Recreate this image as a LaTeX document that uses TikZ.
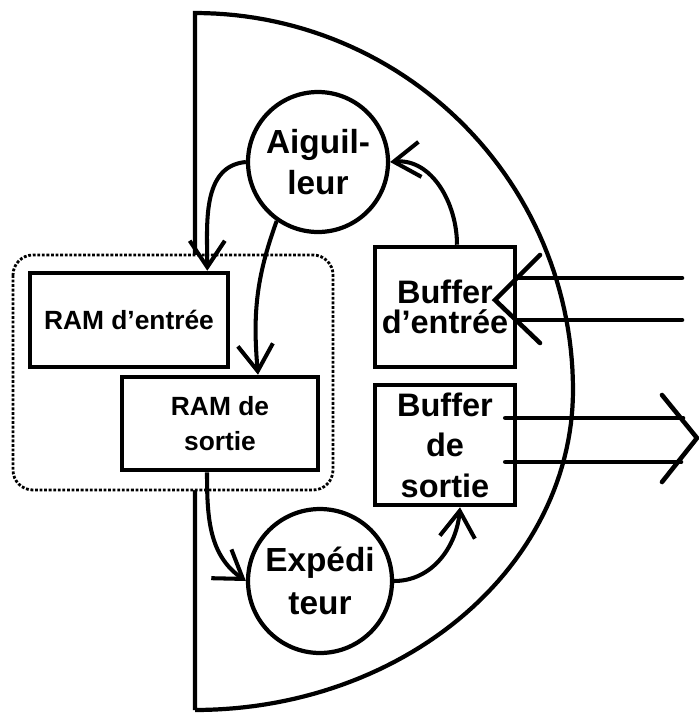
\documentclass[tikz,border=0pt]{standalone}
\usepackage{fontspec}
\setmainfont{Liberation Sans}
\usepackage{tikz}
\usetikzlibrary{arrows.meta, positioning, calc}

\tikzset{
    etage/.style={draw, line width=2.6pt, fill=white, align=center, inner sep=0pt,
        font=\fontsize{18.5}{23}\selectfont\bfseries},
    memoire/.style={draw, line width=2.6pt, fill=white, align=center, inner sep=0pt,
        font=\fontsize{15}{20}\selectfont\bfseries},
    processus/.style={draw, circle, line width=2.4pt, fill=white, align=center, inner sep=0pt,
        font=\fontsize{19}{25}\selectfont\bfseries},
    fleche/.style={line width=2.3pt, -{Straight Barb[length=15pt, width=20pt]}},
    grosse/.style={line width=2.6pt, line cap=round, line join=miter},
}

\begin{document}
\begin{tikzpicture}[x=0.02cm, y=-0.02cm]
    \useasboundingbox (0, 0) rectangle (699, 714);

    % demi-disque
    \draw[line width=2.4pt, line join=miter] (195, 710) -- (195, 13)
        -- plot[domain=90:0, samples=60] ({195+378*cos(\x)}, {390-377*sin(\x)})
        -- plot[domain=0:90, samples=60] ({195+378*cos(\x)}, {390+320*sin(\x)})
        -- cycle;

    % zone des RAM
    \draw[densely dotted, line width=1.6pt, fill=white, rounded corners=0.4cm] (13, 255) rectangle (333, 490);

    \node[memoire, minimum width=3.96cm, minimum height=1.88cm] (ramin) at (129, 320) {RAM d'entrée};
    \node[memoire, minimum width=3.92cm, minimum height=1.86cm] (ramout) at (220, 423.5) {RAM de\\sortie};

    \node[etage, minimum width=2.8cm, minimum height=2.4cm] (bufin) at (445, 307) {Buffer\\[-6pt]d'entrée};
    \node[etage, minimum width=2.8cm, minimum height=2.4cm] (bufout) at (445, 445) {Buffer\\de\\sortie};

    \node[processus, minimum size=2.8cm] (aig) at (318, 162) {\raisebox{-8pt}{\shortstack{Aiguil-\\[3pt]leur}}};
    \node[processus, minimum size=2.88cm] (exp) at (320, 581) {\raisebox{-10pt}{\shortstack{Expédi\\[5pt]teur}}};

    % liaisons
    \draw[fleche] (aig.west) to[out=185, in=90] ($(ramin.north east)+(-23, 0)$);
    \draw[fleche] (aig.235) to[out=250, in=95] ($(ramout.north)+(38, 0)$);
    \draw[fleche] ($(bufin.north)+(12, 0)$) to[out=90, in=5] (aig.east);
    \draw[fleche] ($(ramout.south)+(-13, 0)$) to[out=270, in=145] (exp.west);
    \draw[fleche] (exp.east) to[out=0, in=265] ($(bufout.south)+(15, 0)$);

    % entrées
    \coordinate (in1) at (682, 278);
    \coordinate (in2) at (682, 320);
    \draw[grosse] (in1) -- (in1 -| bufin.east);
    \draw[grosse] (in2) -- (in2 -| bufin.east);
    \draw[grosse] (540, 255) -- (495, 300) -- (540, 343);

    % sorties
    \coordinate (out1) at ($(bufout.east)+(-12, -27)$);
    \coordinate (out2) at ($(bufout.east)+(-12, 17)$);
    \draw[grosse] (out1) -- (683, 418);
    \draw[grosse] (out2) -- (681, 462);
    \draw[grosse] (662, 395) -- (697, 438) -- (662, 482);
\end{tikzpicture}
\end{document}
